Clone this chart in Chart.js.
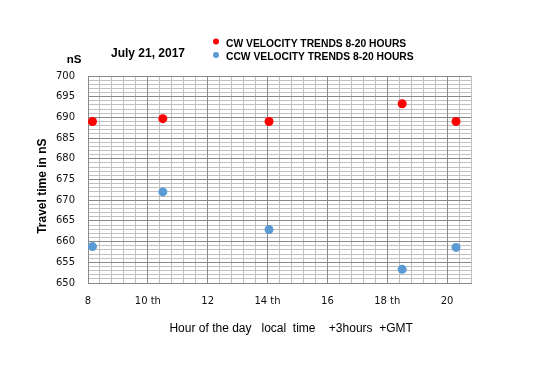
<!DOCTYPE html>
<html>
<head>
<meta charset="utf-8">
<script src="https://cdn.jsdelivr.net/npm/chart.js@4/dist/chart.umd.min.js"></script>
<style>
  html, body { margin: 0; padding: 0; background: #ffffff; }
  #wrap { width: 550px; height: 380px; position: relative; }
</style>
</head>
<body>
<div id="wrap"><canvas id="c" width="550" height="380"></canvas></div>
<script>
// ---- data ----
const chartTitle = "July 21, 2017";
const unitLabel = "nS";
const seriesNames = ["CW VELOCITY TRENDS 8-20 HOURS", "CCW VELOCITY TRENDS 8-20 HOURS"];
const hours = [8.15, 10.5, 14.05, 18.5, 20.3];
const cwValues = [689.0, 689.7, 689.0, 693.3, 689.0];
const ccwValues = [658.8, 672.0, 662.9, 653.3, 658.6];
const hourTicks = [8, 10, 12, 14, 16, 18, 20];
const hourTickLabels = ["8", "10 th", "12", "14 th", "16", "18 th", "20"];
const xTitle = "Hour of the day   local  time    +3hours  +GMT";
const yTitle = "Travel time in nS";

const MAJOR = "#8a8a8a";
const MINOR = "#c0c0c0";
const RED = "#ff0000";
const BLUE = "#5b9bd5";

const overlay = {
  id: "overlay",
  afterDraw(chart) {
    const ctx = chart.ctx;
    ctx.save();
    ctx.fillStyle = "#000";
    ctx.textBaseline = "alphabetic";
    ctx.textAlign = "center";
    ctx.font = 'bold 12px "Liberation Sans"';
    ctx.fillText(chartTitle, 148, 56.5);
    ctx.font = 'bold 11.5px "Liberation Sans"';
    ctx.fillText(unitLabel, 74, 63.3);
    // legend
    const baselines = [46.7, 60];
    const dotY = [41.5, 55];
    ctx.textAlign = "left";
    ctx.font = 'bold 10.3px "Liberation Sans"';
    chart.data.datasets.forEach((ds, i) => {
      ctx.beginPath();
      ctx.fillStyle = ds.backgroundColor;
      ctx.arc(216, dotY[i], 3, 0, Math.PI * 2);
      ctx.fill();
      ctx.fillStyle = "#000";
      ctx.fillText(ds.label, 226, baselines[i]);
    });
    ctx.restore();
  }
};

new Chart(document.getElementById("c"), {
  type: "scatter",
  data: {
    datasets: [
      {
        label: seriesNames[0],
        data: hours.map((h, i) => ({ x: h, y: cwValues[i] })),
        backgroundColor: RED,
        borderColor: RED,
        pointRadius: 4.5,
        pointBorderWidth: 0
      },
      {
        label: seriesNames[1],
        data: hours.map((h, i) => ({ x: h, y: ccwValues[i] })),
        backgroundColor: BLUE,
        borderColor: BLUE,
        pointRadius: 4.5,
        pointBorderWidth: 0
      }
    ]
  },
  options: {
    responsive: false,
    animation: false,
    layout: { padding: { left: 30, top: 76, right: 79, bottom: 43 } },
    plugins: {
      legend: { display: false },
      tooltip: { enabled: false }
    },
    scales: {
      x2: {
        type: "linear",
        position: "bottom",
        min: 8,
        max: 20.8,
        ticks: { display: false, stepSize: 0.4 },
        grid: { color: MINOR, lineWidth: 1, drawTicks: false, z: -2 },
        border: { display: false },
        afterFit: (s) => { s.height = 0; }
      },
      y2: {
        type: "linear",
        position: "left",
        min: 650,
        max: 700,
        ticks: { display: false, stepSize: 1 },
        grid: { color: MINOR, lineWidth: 1, drawTicks: false, z: -2 },
        border: { display: false },
        afterFit: (s) => { s.width = 0; }
      },
      x: {
        type: "linear",
        position: "bottom",
        min: 8,
        max: 20.8,
        afterBuildTicks: (s) => { s.ticks = hourTicks.map(v => ({ value: v })); },
        ticks: {
          color: "#111",
          font: { family: "DejaVu Sans", size: 10 },
          padding: 12,
          maxRotation: 0,
          autoSkip: false,
          callback: (v, i) => hourTickLabels[i]
        },
        grid: { color: MAJOR, lineWidth: 1, drawTicks: false },
        border: { color: MAJOR },
        title: {
          display: true,
          text: "       " + xTitle,
          color: "#000",
          font: { family: "Liberation Sans", size: 12 },
          padding: { top: 0, bottom: 1 }
        },
        afterFit: (s) => { s.height = 54; }
      },
      y: {
        type: "linear",
        position: "left",
        min: 650,
        max: 700,
        ticks: {
          stepSize: 5,
          color: "#111",
          font: { family: "DejaVu Sans", size: 10 },
          padding: 13
        },
        grid: { color: MAJOR, lineWidth: 1, drawTicks: false },
        border: { color: MAJOR },
        title: {
          display: true,
          text: yTitle + "    ",
          color: "#000",
          font: { family: "Liberation Sans", size: 12, weight: "bold" },
          padding: { top: 5, bottom: 0 }
        },
        afterFit: (s) => { s.width = 58; }
      }
    }
  },
  plugins: [overlay]
});
</script>
</body>
</html>
